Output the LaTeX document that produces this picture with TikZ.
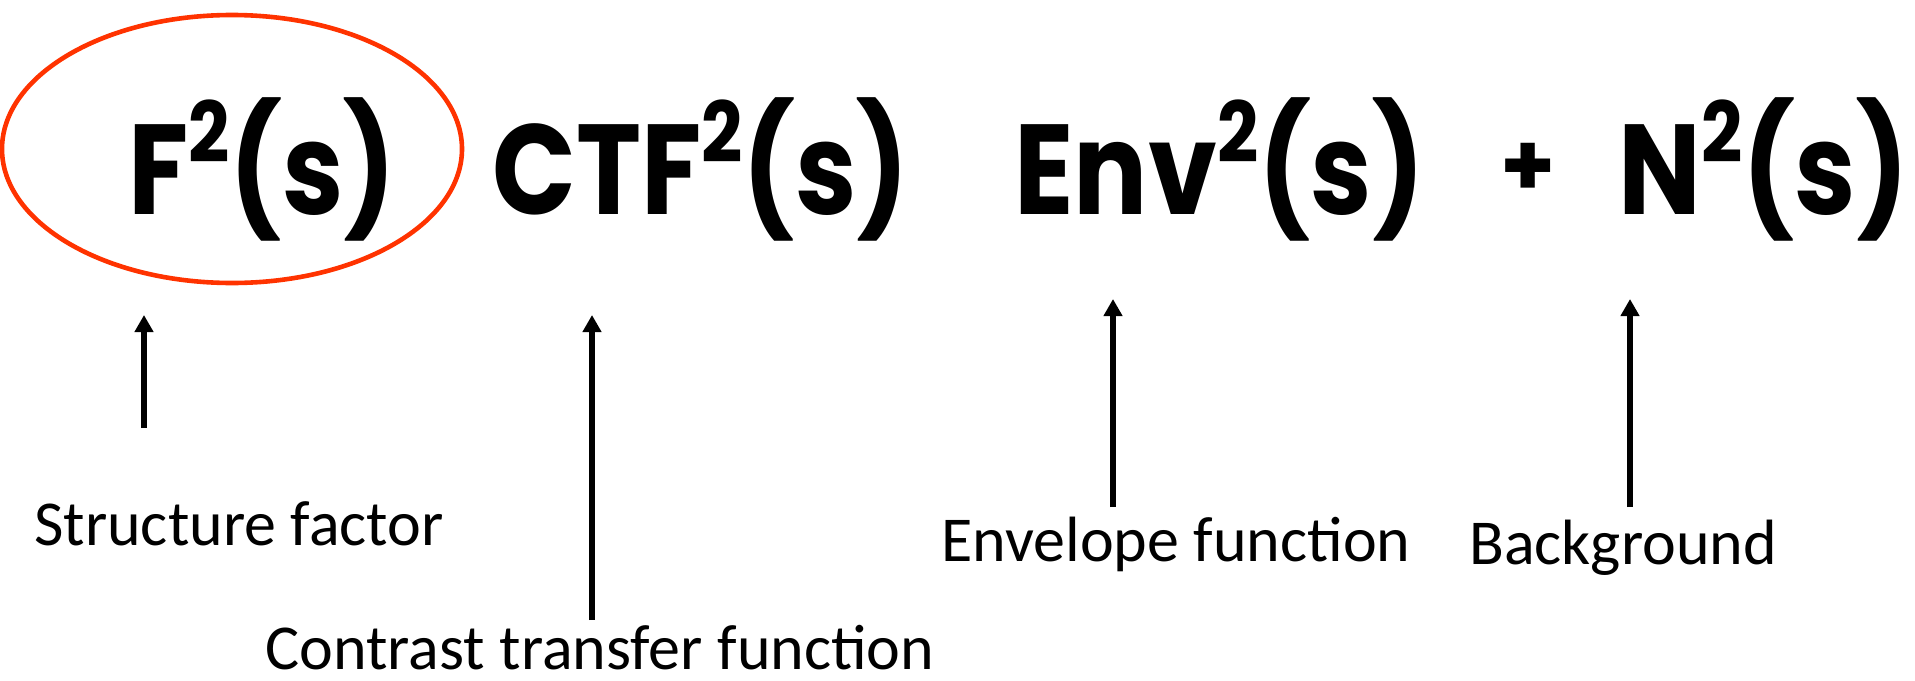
\documentclass[tikz,border=0pt]{standalone}
\usepackage{fontspec}
\setmainfont{Carlito}
\newfontfamily\formulafont{Poppins}[UprightFont=* Bold]
\usetikzlibrary{arrows.meta}
\definecolor{ringred}{RGB}{255,51,0}
% squared exponent and horizontally condensed term
\newcommand{\sqr}{\raisebox{0.40em}{\fontsize{42}{42}\selectfont 2}}
\newcommand{\narrow}[1]{\scalebox{0.86}[1]{#1}}
\begin{document}
\begin{tikzpicture}[x=0.5pt,y=-0.5pt,
  term/.style={anchor=base west,inner sep=0pt,font=\formulafont\fontsize{64}{64}\selectfont},
  caption/.style={anchor=base,inner sep=0pt,font=\fontsize{32}{32}\selectfont},
  pointer/.style={line width=2.6pt,-{Triangle[length=8.5pt,width=9pt]}},
  ring/.style={draw=ringred,line width=2.3pt}]
\useasboundingbox (0,0) rectangle (1915,680);
% the intensity terms
\node[term] (F)   at (128,214)  {\narrow{F\sqr(s)}};
\node[term] (ctf) at (492,214)  {\narrow{CTF\sqr(s)}};
\node[term] (env) at (1014,214) {\narrow{Env\sqr(s)}};
\node[term,font=\formulafont\fontsize{44}{44}\selectfont] (plus) at (1500,196) {+};
\node[term] (N)   at (1618,214) {\narrow{N\sqr(s)}};
% circled structure factor term
\draw[ring] (232,149) ellipse [x radius=115pt, y radius=67pt];
% captions
\node[caption] (lsf)  at (239,545)  {Structure factor};
\node[caption] (lctf) at (600,669)  {Contrast transfer function};
\node[caption] (lenv) at (1176,561) {Envelope function};
\node[caption] (lbg)  at (1623,564) {Background};
% arrow ends
\coordinate (sf0) at (144,428);  \coordinate (sf1) at (144,315);
\coordinate (ct0) at (592,620);  \coordinate (ct1) at (592,315);
\coordinate (en0) at (1113,507); \coordinate (en1) at (1113,299);
\coordinate (bg0) at (1630,507); \coordinate (bg1) at (1630,299);
\draw[pointer] (sf0) -- (sf1);
\draw[pointer] (ct0) -- (ct1);
\draw[pointer] (en0) -- (en1);
\draw[pointer] (bg0) -- (bg1);
\end{tikzpicture}
\end{document}
